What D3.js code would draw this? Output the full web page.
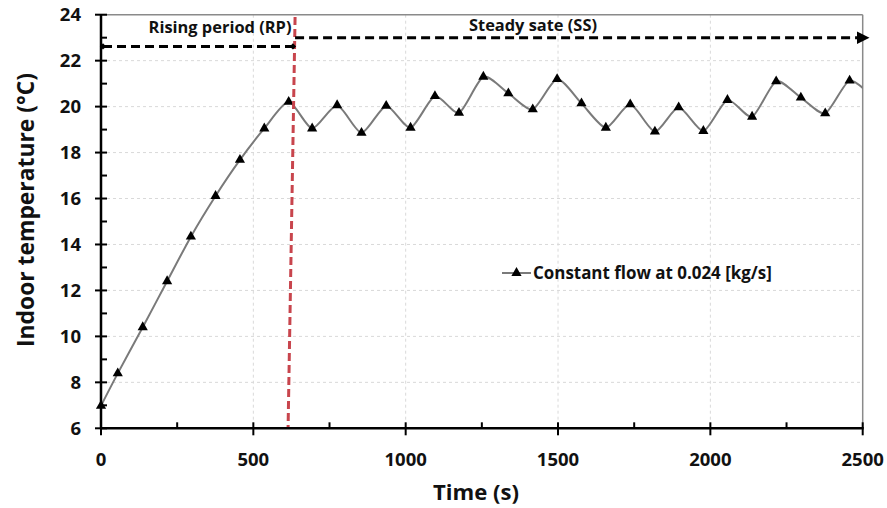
<!DOCTYPE html>
<html><head><meta charset="utf-8">
<script src="https://cdn.jsdelivr.net/npm/d3@7"></script>
<style>body{margin:0;background:#fff}svg{display:block}text{font-family:"Open Sans",Lato,sans-serif;font-weight:bold;fill:#111}</style>
</head><body>
<svg id="c" width="887" height="508"></svg>
<script>
const timeS = [0,55,137,217,295,376,456,536,616,693,775,855,936,1016,1096,1175,1255,1337,1417,1497,1577,1657,1737,1818,1896,1977,2056,2137,2216,2297,2377,2457,2537];
const tempC = [6.98,8.39,10.4,12.4,14.34,16.11,17.68,19.05,20.21,19.05,20.06,18.86,20.03,19.08,20.46,19.73,21.3,20.58,19.88,21.2,20.14,19.08,20.1,18.91,19.97,18.94,20.29,19.56,21.1,20.39,19.71,21.13,20.35];
const xTicks = [0,500,1000,1500,2000,2500];
const yTicks = [6,8,10,12,14,16,18,20,22,24];
const seriesName = "Constant flow at 0.024 [kg/s]";
const rpLabel = "Rising period (RP)", ssLabel = "Steady sate (SS)";
const rpRange = [0,630], rpLevel = 22.62;
const ssRange = [637,2525], ssLevel = 23.0;
const divider = {tTop:637, vTop:23.9, tBottom:614, vBottom:6};

const svg = d3.select("#c");
const L=101, R=862.7, T=14.7, B=428.3;
const x = d3.scaleLinear().domain([0,2500]).range([L,R]);
const y = d3.scaleLinear().domain([6,24]).range([B,T]);

function fit(sel, w){ const n=sel.node(); const fs=+sel.attr("font-size"); const cw=n.getComputedTextLength(); sel.attr("font-size", (fs*w/cw).toFixed(2)); return sel; }

// grid
const g = svg.append("g");
g.selectAll(".hg").data(yTicks.filter(v=>v>6&&v<24)).join("line")
 .attr("x1",L).attr("x2",R).attr("y1",d=>y(d)).attr("y2",d=>y(d))
 .attr("stroke","#d9d9d9").attr("stroke-width",1).attr("stroke-dasharray","3,3");
g.selectAll(".vg").data(xTicks.filter(v=>v>0&&v<2500)).join("line")
 .attr("y1",T).attr("y2",B).attr("x1",d=>x(d)).attr("x2",d=>x(d))
 .attr("stroke","#d9d9d9").attr("stroke-width",1).attr("stroke-dasharray","3,3");

// border top/right
svg.append("line").attr("x1",L).attr("x2",R).attr("y1",T).attr("y2",T).attr("stroke","#8a8a8a").attr("stroke-width",1.5);
svg.append("line").attr("x1",R).attr("x2",R).attr("y1",T).attr("y2",B).attr("stroke","#8a8a8a").attr("stroke-width",1.5);

// clip (right side only)
svg.append("clipPath").attr("id","pc").append("rect").attr("x",L-20).attr("y",T-10).attr("width",R-L+20).attr("height",B-T+20);

const pts = timeS.map((t,i)=>({t, v:tempC[i]}));
const line = d3.line().x(d=>x(d.t)).y(d=>y(d.v)).curve(d3.curveCardinal.tension(0.3));
const plot = svg.append("g").attr("clip-path","url(#pc)");
plot.append("path").datum(pts).attr("d",line).attr("fill","none").attr("stroke","#7a7a7a").attr("stroke-width",2);
const tri = d3.symbol().type(d3.symbolTriangle).size(45);

// divider
svg.append("line").attr("x1",x(divider.tTop)).attr("y1",y(divider.vTop)).attr("x2",x(divider.tBottom)).attr("y2",y(divider.vBottom))
 .attr("stroke","#c8454d").attr("stroke-width",3).attr("stroke-dasharray","8,4");

// axes
const ax = svg.append("g");
ax.append("line").attr("x1",L).attr("x2",L).attr("y1",T).attr("y2",B+1).attr("stroke","#000").attr("stroke-width",2.5);
ax.append("line").attr("x1",L-1).attr("x2",R+1).attr("y1",B).attr("y2",B).attr("stroke","#000").attr("stroke-width",2.5);
const yMinor = d3.range(7,24,2);
ax.selectAll(".yt").data(yTicks).join("line").attr("x1",L-6).attr("x2",L+6).attr("y1",d=>y(d)).attr("y2",d=>y(d)).attr("stroke","#000").attr("stroke-width",2);
ax.selectAll(".ym").data(yMinor).join("line").attr("x1",L).attr("x2",L+6).attr("y1",d=>y(d)).attr("y2",d=>y(d)).attr("stroke","#000").attr("stroke-width",2);
const xMinor = d3.range(250,2500,500);
ax.selectAll(".xt").data(xTicks).join("line").attr("y1",B-6).attr("y2",B+7).attr("x1",d=>x(d)).attr("x2",d=>x(d)).attr("stroke","#000").attr("stroke-width",2);
ax.selectAll(".xm").data(xMinor).join("line").attr("y1",B-6).attr("y2",B).attr("x1",d=>x(d)).attr("x2",d=>x(d)).attr("stroke","#000").attr("stroke-width",2);
ax.selectAll(".yl").data(yTicks).join("text").attr("x",81).attr("y",d=>y(d)+6.5).attr("text-anchor","end").attr("font-size",18.5).text(d=>d);
ax.selectAll(".xl").data(xTicks).join("text").attr("x",d=>x(d)).attr("y",466).attr("text-anchor","middle").attr("font-size",18.5).text(d=>d);

// markers on top
plot.selectAll(".m").data(pts).join("path").attr("d",tri)
 .attr("transform",d=>`translate(${x(d.t)},${y(d.v)})`).attr("fill","#000");

// arrows
const defs = svg.append("defs");
defs.append("marker").attr("id","dia").attr("viewBox","-5 -5 10 10").attr("markerWidth",8).attr("markerHeight",8)
 .attr("markerUnits","userSpaceOnUse").append("path").attr("d","M0,-4L4,0L0,4L-4,0Z").attr("fill","#000");
defs.append("marker").attr("id","arr").attr("viewBox","0 -5 10 10").attr("refX",6).attr("markerWidth",13).attr("markerHeight",13)
 .attr("markerUnits","userSpaceOnUse").attr("orient","auto").append("path").attr("d","M0,-5L10,0L0,5Z").attr("fill","#000");
svg.append("line").attr("x1",x(rpRange[0])+2).attr("x2",x(rpRange[1])).attr("y1",y(rpLevel)).attr("y2",y(rpLevel))
 .attr("stroke","#000").attr("stroke-width",3).attr("stroke-dasharray","9,5")
 .attr("marker-start","url(#dia)").attr("marker-end","url(#dia)");
svg.append("line").attr("x1",x(ssRange[0])).attr("x2",x(ssRange[1])-6).attr("y1",y(ssLevel)).attr("y2",y(ssLevel))
 .attr("stroke","#000").attr("stroke-width",3).attr("stroke-dasharray","9,5")
 .attr("marker-end","url(#arr)");

fit(svg.append("text").attr("x",220).attr("y",33).attr("text-anchor","middle").attr("font-size",14).text(rpLabel),143);
fit(svg.append("text").attr("x",533).attr("y",31).attr("text-anchor","middle").attr("font-size",14).text(ssLabel),128);

fit(svg.append("text").attr("transform","translate(34,210) rotate(-90)").attr("text-anchor","middle").attr("font-size",20).text("Indoor temperature (°C)"),274);
fit(svg.append("text").attr("x",476).attr("y",500).attr("text-anchor","middle").attr("font-size",20).text("Time (s)"),86);

// legend
const lg = svg.append("g");
lg.append("line").attr("x1",502).attr("x2",531).attr("y1",273).attr("y2",273).attr("stroke","#7a7a7a").attr("stroke-width",2);
lg.append("path").attr("d",tri).attr("transform","translate(516.5,273)").attr("fill","#000");
fit(lg.append("text").attr("x",533).attr("y",278.5).attr("font-size",15).text(seriesName),239);
</script>
</body></html>
